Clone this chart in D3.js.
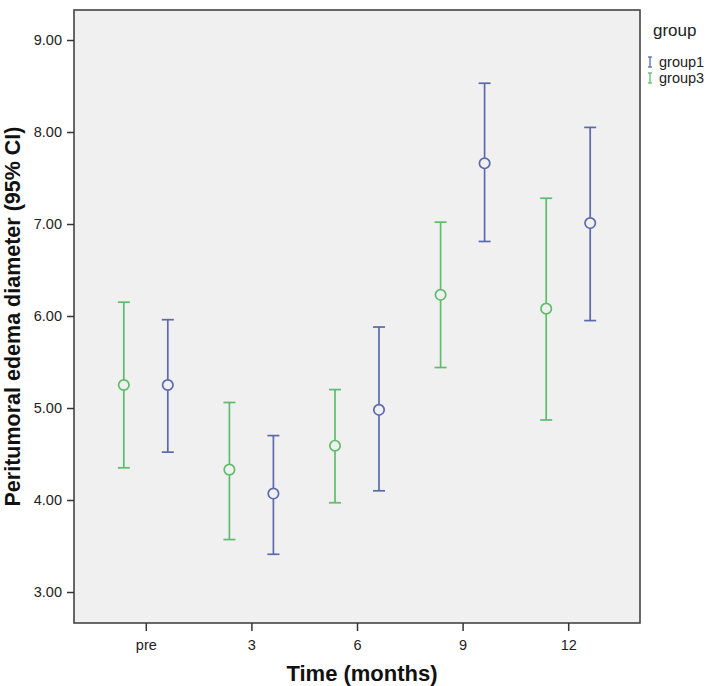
<!DOCTYPE html>
<html><head><meta charset="utf-8">
<script src="https://cdn.jsdelivr.net/npm/d3@7"></script>
<style>body{margin:0;background:#fff}svg{display:block}text{font-family:Arial,"Liberation Sans",sans-serif}</style>
</head><body><svg id="c" width="709" height="686"></svg>
<script>
const categories = ["pre","3","6","9","12"];
const groups = ["group1","group3"];
const group1Mean  = [5.25, 4.07, 4.98, 7.66, 7.01];
const group1Lower = [4.52, 3.41, 4.10, 6.81, 5.95];
const group1Upper = [5.96, 4.70, 5.88, 8.53, 8.05];
const group3Mean  = [5.25, 4.33, 4.59, 6.23, 6.08];
const group3Lower = [4.35, 3.57, 3.97, 5.44, 4.87];
const group3Upper = [6.15, 5.06, 5.20, 7.02, 7.28];
const yTicks = [3,4,5,6,7,8,9];

const colors = {group1:"#5b69ad", group3:"#5dbd6b"};
const svg = d3.select("#c");
const L=74, R=640, T=10, B=623;

const x = d3.scalePoint().domain(categories).range([L,R]).padding(0.68);
const y = d3.scaleLinear().domain([3,9]).range([592,40]);
const offset = d3.scalePoint().domain(["group3","group1"]).range([-22,22]);

svg.append("rect").attr("x",L).attr("y",T).attr("width",R-L).attr("height",B-T)
  .attr("fill","#f0f0f0").attr("stroke","#444").attr("stroke-width",1.6);

const yAxis = svg.append("g").attr("transform",`translate(${L},0)`)
  .call(d3.axisLeft(y).tickValues(yTicks).tickFormat(d3.format(".2f")).tickSize(7).tickSizeOuter(0));
yAxis.select(".domain").remove();
yAxis.selectAll("line").attr("stroke","#333").attr("stroke-width",1.5);
yAxis.selectAll("text").attr("font-size",14.5).attr("fill","#222").attr("dx",-2);

const xAxis = svg.append("g").attr("transform",`translate(0,${B})`)
  .call(d3.axisBottom(x).tickSize(8).tickSizeOuter(0));
xAxis.select(".domain").remove();
xAxis.selectAll("line").attr("stroke","#333").attr("stroke-width",1.5);
xAxis.selectAll("text").attr("font-size",14.5).attr("fill","#222").attr("dy","1.1em");

const data = [];
categories.forEach((c,i)=>{
  data.push({g:"group3",c,m:group3Mean[i],lo:group3Lower[i],hi:group3Upper[i]});
  data.push({g:"group1",c,m:group1Mean[i],lo:group1Lower[i],hi:group1Upper[i]});
});
const cap=6;
const gs = svg.append("g").selectAll("g").data(data).join("g")
  .attr("stroke",d=>colors[d.g]).attr("fill","none").attr("stroke-width",1.7);
gs.append("line").attr("x1",d=>x(d.c)+offset(d.g)).attr("x2",d=>x(d.c)+offset(d.g))
  .attr("y1",d=>y(d.lo)).attr("y2",d=>y(d.hi));
gs.append("line").attr("x1",d=>x(d.c)+offset(d.g)-cap).attr("x2",d=>x(d.c)+offset(d.g)+cap)
  .attr("y1",d=>y(d.hi)).attr("y2",d=>y(d.hi));
gs.append("line").attr("x1",d=>x(d.c)+offset(d.g)-cap).attr("x2",d=>x(d.c)+offset(d.g)+cap)
  .attr("y1",d=>y(d.lo)).attr("y2",d=>y(d.lo));
gs.append("circle").attr("cx",d=>x(d.c)+offset(d.g)).attr("cy",d=>y(d.m)).attr("r",5.2)
  .attr("fill","#f0f0f0");

svg.append("text").attr("x",362).attr("y",681).attr("text-anchor","middle")
  .attr("font-size",22).attr("font-weight","bold").attr("fill","#111").text("Time (months)");
svg.append("text").attr("transform",`translate(20,${(T+B)/2}) rotate(-90)`).attr("text-anchor","middle")
  .attr("font-size",21.5).attr("font-weight","bold").attr("fill","#111").text("Peritumoral edema diameter (95% CI)");

const lg = svg.append("g");
lg.append("text").attr("x",653).attr("y",36).attr("font-size",17).attr("fill","#222").text("group");
groups.forEach((g,i)=>{
  const yy = 62 + i*16;
  const it = lg.append("g").attr("stroke",colors[g]).attr("stroke-width",1.3);
  it.append("line").attr("x1",650).attr("x2",650).attr("y1",yy-5).attr("y2",yy+5);
  it.append("line").attr("x1",648).attr("x2",652).attr("y1",yy-5).attr("y2",yy-5);
  it.append("line").attr("x1",648).attr("x2",652).attr("y1",yy+5).attr("y2",yy+5);
  lg.append("text").attr("x",659).attr("y",yy+5).attr("font-size",14.5).attr("fill","#222").text(g);
});
</script></body></html>
